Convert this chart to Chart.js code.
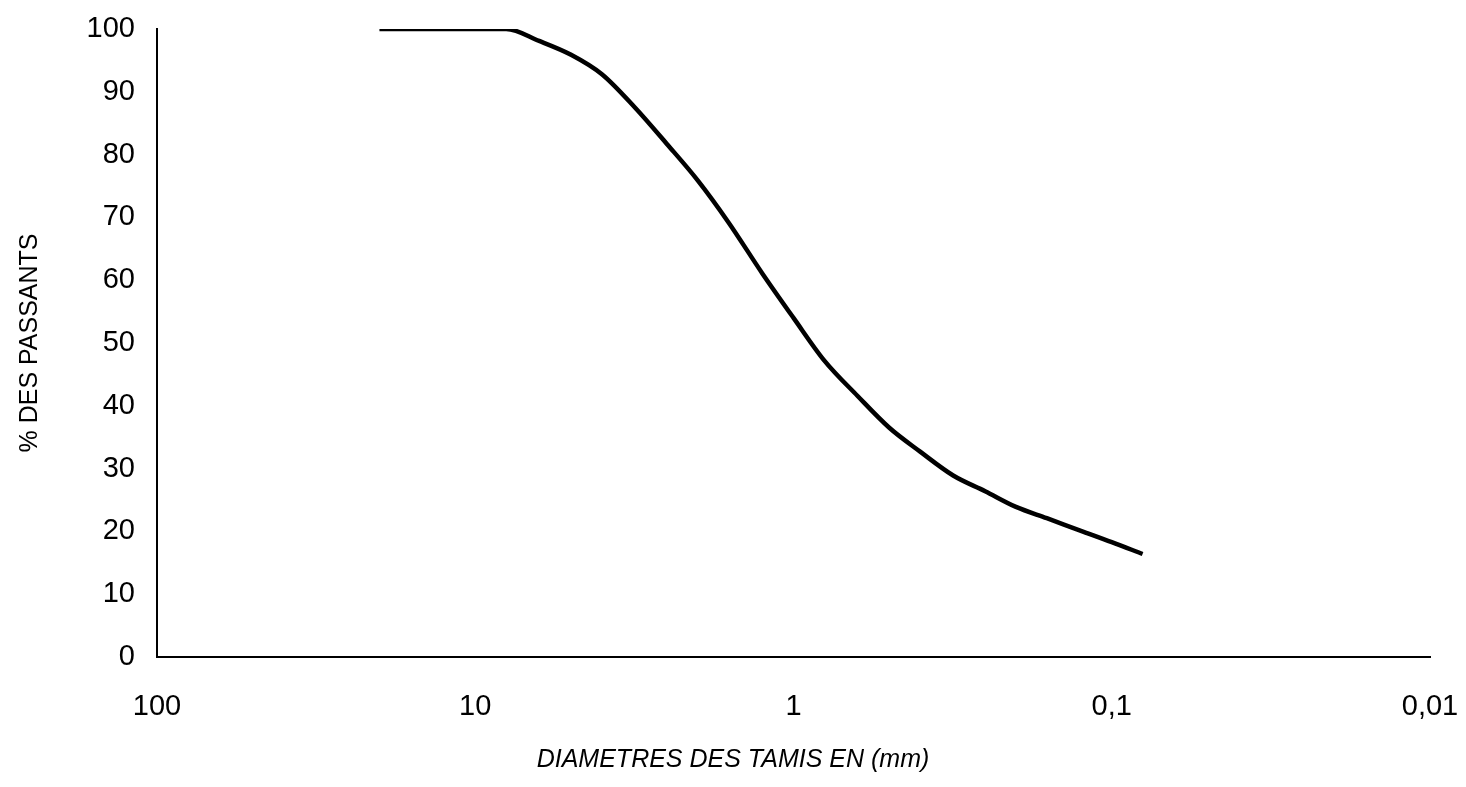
<!DOCTYPE html>
<html>
<head>
<meta charset="utf-8">
<script src="https://cdn.jsdelivr.net/npm/chart.js@4/dist/chart.umd.min.js"></script>
<style>
  html, body { margin: 0; padding: 0; background: #fff; }
  #wrap { width: 1466px; height: 787px; }
</style>
</head>
<body>
<div id="wrap"><canvas id="granuloChart"></canvas></div>
<script>
// sieve openings (mm) and cumulative % passing
var sieveSizes = [20, 16, 12.5, 10, 8, 6.3, 5, 4, 3.15, 2.5, 2, 1.6, 1.25, 1,
                  0.8, 0.63, 0.5, 0.4, 0.315, 0.25, 0.2, 0.16, 0.125, 0.1, 0.08];
var passing = [100, 100, 100, 100, 100, 98.1, 95.9, 92.8, 87.5, 81.7, 75.9, 69.2, 61, 54,
               47.2, 41.6, 36.5, 32.7, 28.9, 26.4, 23.9, 22.1, 20.1, 18.3, 16.4];
var xTickValues = [100, 10, 1, 0.1, 0.01];
var yTickValues = [0, 10, 20, 30, 40, 50, 60, 70, 80, 90, 100];

var points = sieveSizes.map(function(d, i) { return { x: d, y: passing[i] }; });
var fontFamily = "'Liberation Sans', Arial, sans-serif";

var chart = new Chart("granuloChart", {
    type: "line",
    data: {
        datasets: [{
            data: points,
            borderColor: "#000",
            borderWidth: 4.5,
            pointRadius: 0,
            cubicInterpolationMode: "monotone",
            fill: false
        }]
    },
    options: {
        responsive: true,
        maintainAspectRatio: false,
        animation: false,
        layout: {
            padding: { top: 29, right: 0, left: 0, bottom: 0 }
        },
        plugins: {
            legend: { display: false },
            tooltip: { enabled: false },
            title: {
                display: true,
                position: "bottom",
                text: "DIAMETRES DES TAMIS EN (mm)",
                color: "#000",
                font: { family: fontFamily, size: 25, style: "italic", weight: "normal" },
                padding: { top: 0, bottom: 12 }
            }
        },
        scales: {
            x: {
                type: "logarithmic",
                reverse: true,
                min: 0.01,
                max: 100,
                grid: { display: false, drawTicks: false },
                border: { display: true, color: "#000", width: 2 },
                afterBuildTicks: function(scale) {
                    scale.ticks = xTickValues.map(function(v) { return { value: v }; });
                },
                afterFit: function(scale) {
                    scale.height = 88;
                    scale.paddingLeft = 0;
                    scale.paddingRight = 0;
                },
                ticks: {
                    color: "#000",
                    padding: 33,
                    maxRotation: 0,
                    autoSkip: false,
                    font: { family: fontFamily, size: 29 },
                    callback: function(value) {
                        return String(value).replace(".", ",");
                    }
                }
            },
            y: {
                min: 0,
                max: 100,
                grid: { display: false, drawTicks: false },
                border: { display: true, color: "#000", width: 2 },
                afterBuildTicks: function(scale) {
                    scale.ticks = yTickValues.map(function(v) { return { value: v }; });
                },
                afterFit: function(scale) {
                    scale.width = 157;
                    scale.paddingTop = 0;
                    scale.paddingBottom = 0;
                },
                ticks: {
                    color: "#000",
                    padding: 22,
                    font: { family: fontFamily, size: 29 }
                },
                title: {
                    display: true,
                    text: "% DES PASSANTS",
                    color: "#000",
                    font: { family: fontFamily, size: 25 },
                    padding: { top: 15, bottom: 0 }
                }
            },
            // empty strip on the right so the plot ends at 0,01
            yRight: {
                position: "right",
                display: true,
                grid: { display: false, drawTicks: false },
                border: { display: false },
                ticks: { display: false },
                afterFit: function(scale) {
                    scale.width = 36;
                    scale.paddingTop = 0;
                    scale.paddingBottom = 0;
                }
            }
        }
    }
});
</script>
</body>
</html>
